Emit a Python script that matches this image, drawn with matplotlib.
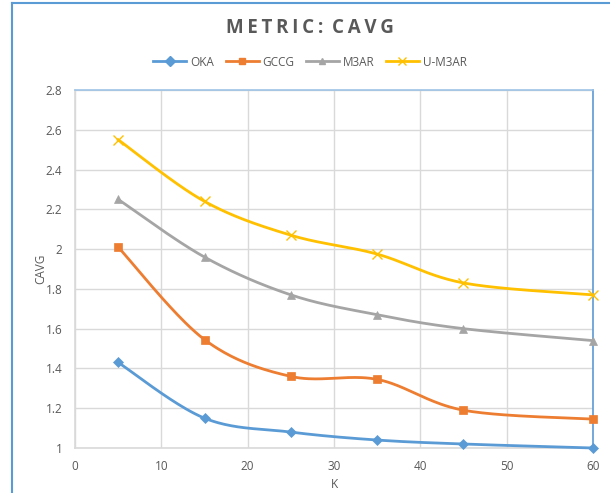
import numpy as np
import matplotlib.pyplot as plt
from matplotlib.lines import Line2D

k_values = [5, 15, 25, 35, 45, 60]
oka = [1.43, 1.15, 1.08, 1.04, 1.02, 1.00]
gccg = [2.01, 1.545, 1.36, 1.345, 1.19, 1.145]
m3ar = [2.25, 1.96, 1.77, 1.67, 1.60, 1.54]
u_m3ar = [2.55, 2.24, 2.07, 1.975, 1.83, 1.77]

series_names = ['OKA', 'GCCG', 'M3AR', 'U-M3AR']
series_colors = ['#5B9BD5', '#ED7D31', '#A5A5A5', '#FFC000']
series_markers = ['D', 's', '^', 'x']
x_ticks = [0, 10, 20, 30, 40, 50, 60]
y_ticks = [1, 1.2, 1.4, 1.6, 1.8, 2, 2.2, 2.4, 2.6, 2.8]
y_tick_labels = ['1', '1.2', '1.4', '1.6', '1.8', '2', '2.2', '2.4', '2.6', '2.8']

text_gray = '#595959'
grid_gray = '#D9D9D9'
frame_blue = '#5B9BD5'


def smooth_curve(xs, ys, n=40):
    # bezier segments with catmull-rom control points (spreadsheet style smoothing)
    xs = np.asarray(xs, float)
    ys = np.asarray(ys, float)
    pts = np.column_stack([xs, ys])
    out = []
    for i in range(len(pts) - 1):
        p0 = pts[max(i - 1, 0)]
        p1 = pts[i]
        p2 = pts[i + 1]
        p3 = pts[min(i + 2, len(pts) - 1)]
        c1 = p1 + (p2 - p0) / 6.0
        c2 = p2 - (p3 - p1) / 6.0
        t = np.linspace(0, 1, n)[:, None]
        seg = ((1 - t) ** 3) * p1 + 3 * ((1 - t) ** 2) * t * c1 + 3 * (1 - t) * t ** 2 * c2 + t ** 3 * p2
        out.append(seg if i == 0 else seg[1:])
    out = np.vstack(out)
    return out[:, 0], out[:, 1]


fig = plt.figure(figsize=(6.1, 4.93), dpi=100)
ax = fig.add_axes([0.123, 0.0913, 0.849, 0.7261])

all_series = [oka, gccg, m3ar, u_m3ar]
for vals, color, marker in zip(all_series, series_colors, series_markers):
    sx, sy = smooth_curve(k_values, vals)
    ax.plot(sx, sy, color=color, lw=2.0, zorder=3, clip_on=False)
    ms = 7 if marker == 'x' else (5.5 if marker == 'D' else 6)
    ax.plot(k_values, vals, ls='none', marker=marker, color=color, ms=ms,
            mew=1.0 if marker == 'x' else 0.5, zorder=4, clip_on=False)

ax.set_xlim(0, 60)
ax.set_ylim(1, 2.8)
ax.set_xticks(x_ticks)
ax.set_yticks(y_ticks)
ax.set_yticklabels(y_tick_labels)
ax.grid(True, color=grid_gray, lw=1.0, zorder=0)
ax.tick_params(length=0, colors=text_gray, labelsize=8.5, pad=9)
for lbl in ax.get_xticklabels() + ax.get_yticklabels():
    lbl.set_fontfamily('Open Sans')

ax.spines['left'].set_color(grid_gray)
ax.spines['bottom'].set_color(grid_gray)
ax.spines['top'].set_color('#9DC3E6')
ax.spines['right'].set_color(frame_blue)
for s in ax.spines.values():
    s.set_linewidth(1.2)

ax.set_xlabel('K', color=text_gray, fontsize=8.5, labelpad=3, family='Open Sans')
ax.set_ylabel('CAVG', color=text_gray, fontsize=8.5, labelpad=-1, family='Open Sans')

title = '\u2009'.join('METRIC:') + '\u2009 ' + '\u2009'.join('CAVG')
fig.text(0.508, 0.943, title, ha='center', va='center', fontsize=13.5,
         fontweight='bold', color=text_gray, family=['Open Sans', 'DejaVu Sans'])

handles = [Line2D([0], [0], color=c, lw=2, marker=m, ms=5 if m != 'x' else 6, mew=1)
           for c, m in zip(series_colors, series_markers)]
fig.legend(handles, series_names, loc='center', bbox_to_anchor=(0.508, 0.874), ncol=4,
           frameon=False, handlelength=2.8, columnspacing=1.0, handletextpad=0.3,
           labelcolor=text_gray, prop={'family': 'Open Sans', 'size': 8.5})

# outer chart frame (top and left edges)
fig.add_artist(Line2D([0.02, 0.02], [0, 0.994], color=frame_blue, lw=1.5, transform=fig.transFigure))
fig.add_artist(Line2D([0.02, 1.0], [0.994, 0.994], color=frame_blue, lw=1.5, transform=fig.transFigure))

fig.savefig('out.png', dpi=100)
